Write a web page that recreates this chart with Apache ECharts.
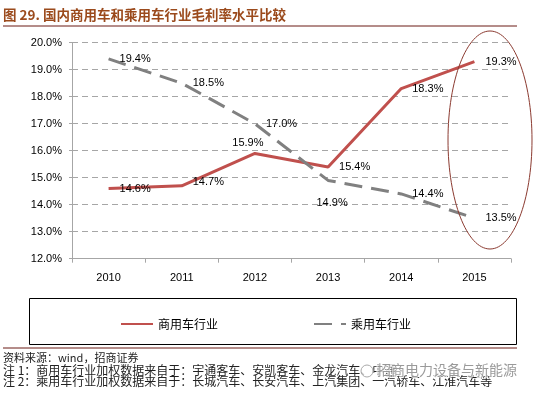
<!DOCTYPE html>
<html>
<head>
<meta charset="utf-8">
<script src="https://cdn.jsdelivr.net/npm/echarts@6/dist/echarts.min.js"></script>
<style>
  html, body { margin: 0; padding: 0; background: #fff; }
  #main { width: 538px; height: 397px; }
</style>
</head>
<body>
<div id="main"></div>
<script>
// 年份与两条毛利率曲线（%）
const years = ["2010", "2011", "2012", "2013", "2014", "2015"];
const commercial = [14.6, 14.7, 15.9, 15.4, 18.3, 19.3]; // 商用车行业
const passenger = [19.4, 18.5, 17.0, 14.9, 14.4, 13.5]; // 乘用车行业
const seriesNames = ["商用车行业", "乘用车行业"];

const cjk = '"Noto Sans CJK SC", sans-serif';
const latin = '"Liberation Sans", Arial, sans-serif';

// 标签位置：大部分在右侧，个别点例外
function withLabels(values, special) {
  return values.map((v, i) => {
    const item = { value: v };
    if (special[i]) item.label = special[i];
    return item;
  });
}

const pctLabel = {
  show: true,
  position: "right",
  distance: 11,
  color: "#000",
  fontSize: 11,
  fontFamily: latin,
  formatter: (p) => Number(p.value).toFixed(1) + "%",
};

const chart = echarts.init(document.getElementById("main"));

const option = {
  animation: false,
  backgroundColor: "#fff",
  grid: { left: 72, right: 27, top: 42.7, bottom: 138.3 },
  xAxis: {
    type: "category",
    data: years,
    boundaryGap: true,
    axisLine: { lineStyle: { color: "#a6a6a6", width: 1 } },
    axisTick: { show: true, length: 4, lineStyle: { color: "#a6a6a6" } },
    axisLabel: { margin: 14, color: "#000", fontSize: 11, fontFamily: latin },
  },
  yAxis: {
    type: "value",
    min: 12,
    max: 20,
    interval: 1,
    axisLine: { show: true, lineStyle: { color: "#a6a6a6", width: 1 } },
    axisTick: { show: true, length: 3, lineStyle: { color: "#a6a6a6" } },
    axisLabel: {
      margin: 10,
      color: "#000",
      fontSize: 11,
      fontFamily: latin,
      formatter: (v) => v.toFixed(1) + "%",
    },
    splitLine: {
      show: true,
      lineStyle: { color: "#a6a6a6", width: 1, type: [6, 4] },
    },
  },
  legend: {
    left: 115,
    top: 313,
    itemWidth: 32,
    itemHeight: 14,
    itemGap: 95,
    textStyle: { fontSize: 12, color: "#000", fontFamily: cjk },
    data: seriesNames,
  },
  series: [
    {
      name: seriesNames[0],
      type: "line",
      symbol: "circle",
      symbolSize: 0,
      lineStyle: { color: "#c0504d", width: 3 },
      itemStyle: { color: "rgba(0,0,0,0)" },
      label: pctLabel,
      data: withLabels(commercial, {
        1: { offset: [0, -4] },
        2: { position: "top", distance: 5, offset: [-7, 0] },
      }),
    },
    {
      name: seriesNames[1],
      type: "line",
      symbol: "circle",
      symbolSize: 0,
      lineStyle: { color: "#808080", width: 3, type: [18, 9] },
      itemStyle: { color: "rgba(0,0,0,0)" },
      label: pctLabel,
      data: withLabels(passenger, {
        3: { position: "bottom", distance: 17, offset: [4, 0] },
      }),
    },
  ],
  graphic: [
    {
      type: "text",
      left: 3,
      top: 8,
      style: {
        text: "图 29. 国内商用车和乘用车行业毛利率水平比较",
        fontSize: 13.5,
        fontWeight: "bold",
        fontFamily: cjk,
        fill: "#9b4a1c",
      },
    },
    {
      type: "line",
      shape: { x1: 3, y1: 26, x2: 517, y2: 26 },
      style: { stroke: "#6b1a14", lineWidth: 1 },
    },
    {
      type: "ellipse",
      shape: { cx: 490, cy: 140, rx: 42, ry: 109 },
      style: { fill: "none", stroke: "#8b3a30", lineWidth: 1 },
      z: 10,
    },
    {
      type: "rect",
      shape: { x: 29.5, y: 298.5, width: 487, height: 46 },
      style: { fill: "none", stroke: "#000", lineWidth: 1 },
    },
    {
      type: "line",
      shape: { x1: 3, y1: 348, x2: 517, y2: 348 },
      style: { stroke: "#6b1a14", lineWidth: 1 },
    },
    {
      type: "text",
      left: 3,
      top: 352,
      style: {
        text: "资料来源：wind，招商证券",
        fontSize: 11,
        fontFamily: cjk,
        fill: "#222",
      },
    },
    {
      type: "text",
      left: 3,
      top: 364,
      style: {
        text: "注 1：商用车行业加权数据来自于：宇通客车、安凯客车、金龙汽车、中通",
        fontSize: 12,
        fontFamily: cjk,
        fill: "#222",
      },
    },
    {
      type: "text",
      left: 3,
      top: 375,
      style: {
        text: "注 2：乘用车行业加权数据来自于：长城汽车、长安汽车、上汽集团、一汽轿车、江淮汽车等",
        fontSize: 12,
        fontFamily: cjk,
        fill: "#222",
      },
    },
    {
      type: "circle",
      shape: { cx: 367, cy: 371, r: 6 },
      style: { fill: "rgba(255,255,255,0.7)", stroke: "#aaa", lineWidth: 1 },
      z: 20,
    },
    {
      type: "text",
      left: 376,
      top: 362,
      z: 20,
      style: {
        text: "招商电力设备与新能源",
        fontSize: 14,
        fontFamily: cjk,
        fill: "rgba(120,120,120,0.75)",
        stroke: "rgba(255,255,255,0.8)",
        lineWidth: 2,
      },
    },
  ],
};

chart.setOption(option);
</script>
</body>
</html>
